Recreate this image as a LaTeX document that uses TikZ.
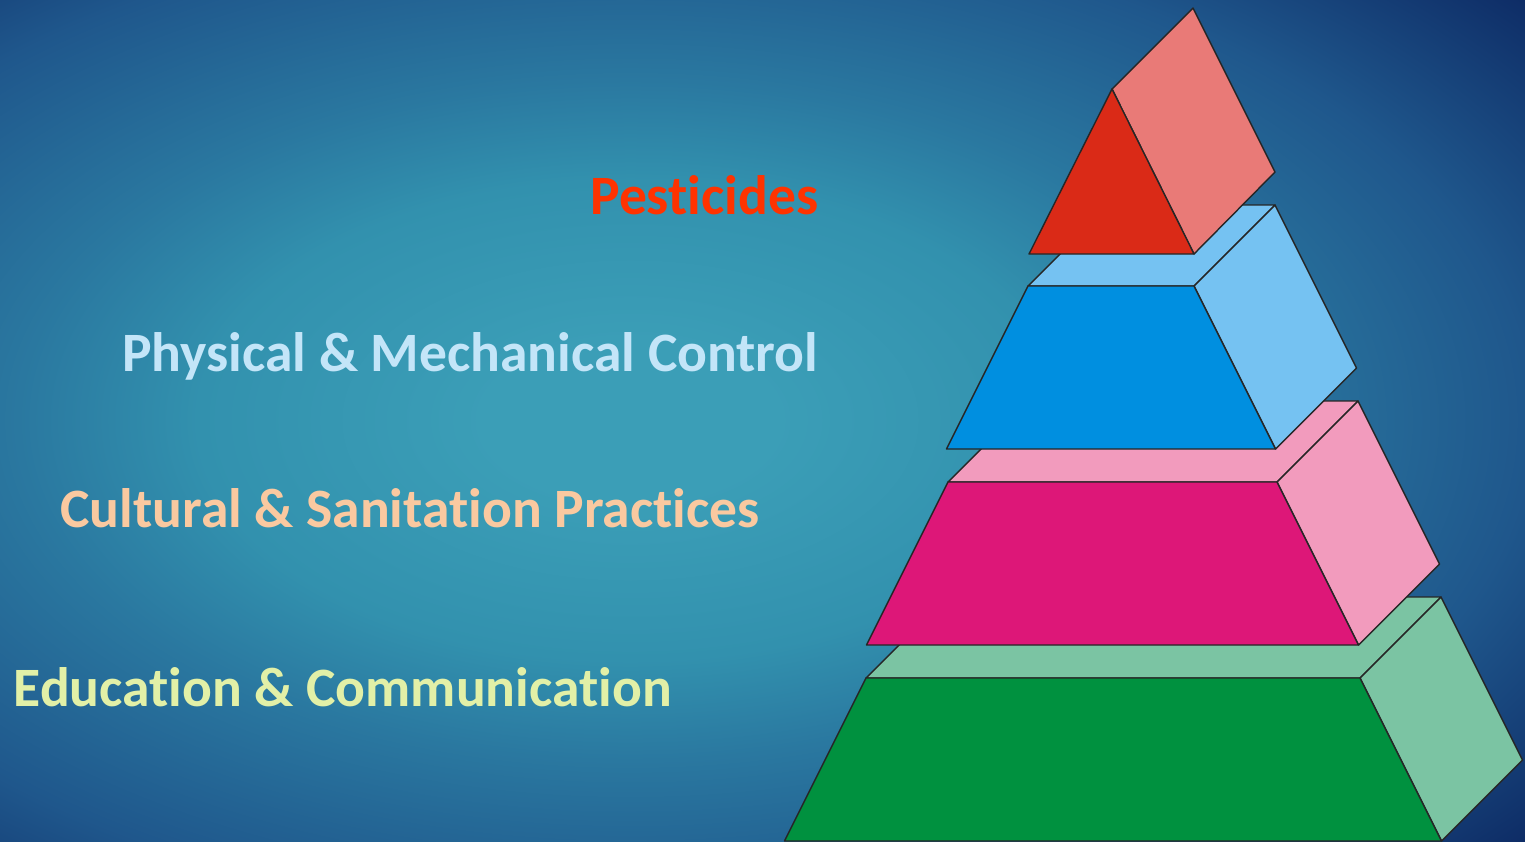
\documentclass[tikz,border=0pt]{standalone}
\usepackage{fontspec}
\setmainfont{Carlito}[Ligatures=NoCommon]
\usepackage{tikz}

\definecolor{bgcore}{HTML}{3B9EB7}
\definecolor{bginner}{HTML}{3291AE}
\definecolor{bgmid}{HTML}{2A78A0}
\definecolor{bgouter}{HTML}{1F578C}
\definecolor{bgcorner}{HTML}{0D2A64}
\definecolor{edgegray}{HTML}{262626}
\definecolor{tierred}{HTML}{DA2A17}
\definecolor{palered}{HTML}{E97A77}
\definecolor{tierblue}{HTML}{008FE0}
\definecolor{paleblue}{HTML}{75C2F2}
\definecolor{tierpink}{HTML}{DD1778}
\definecolor{palepink}{HTML}{F29BBD}
\definecolor{tiergreen}{HTML}{00913F}
\definecolor{palegreen}{HTML}{7BC4A3}
\definecolor{txtred}{HTML}{FF3300}
\definecolor{txtblue}{HTML}{C3E5F8}
\definecolor{txtpeach}{HTML}{FAC9A0}
\definecolor{txtlime}{HTML}{E2F0A7}

\pgfdeclareradialshading{bgglow}{\pgfpointorigin}{color(0bp)=(bgcore); color(4bp)=(bgcore); color(12bp)=(bginner); color(17bp)=(bgmid); color(25bp)=(bgouter); color(33bp)=(bgcorner); color(40bp)=(bgcorner)}

\begin{document}
\begin{tikzpicture}[x=0.01cm,y=-0.01cm,
    face/.style={draw=edgegray,line width=0.4pt,line join=round},
    tiertext/.style={font=\fontsize{15.8}{19}\selectfont\bfseries,inner sep=0pt}]
    \useasboundingbox (0,0) rectangle (1525,841);

    \begin{scope}
    \clip (0,0) rectangle (1525,841);
    \shade[shading=bgglow] (-270,-80) rectangle (1530,920);

    \foreach \yt/\xl/\xr/\main/\pale in {678/866/1360/tiergreen/palegreen,
        482/948/1277/tierpink/palepink, 286/1028/1194/tierblue/paleblue}{
      \draw[face,fill=\pale] (\xl,\yt) -- ++(81,-81) -- ({\xr+81},{\yt-81}) -- (\xr,\yt) -- cycle;
      \draw[face,fill=\pale] (\xr,\yt) -- ++(81,-81) -- ++(81.5,163) -- ++(-81,81) -- cycle;
      \draw[face,fill=\main] (\xl,\yt) -- (\xr,\yt) -- ({\xr+81.5},{\yt+163}) -- ({\xl-81.5},{\yt+163}) -- cycle;
    }
    \draw[face,fill=palered] (1112,89) -- ++(81,-81) -- (1275,172) -- (1194,254) -- cycle;
    \draw[face,fill=tierred] (1112,89) -- (1194,254) -- (1029,254) -- cycle;
    \end{scope}

    \node[tiertext,text=txtred,anchor=base east] (pesticides) at (819,214) {Pesticides};
    \node[tiertext,text=txtblue,anchor=base east] (physical) at (819,371) {Physical \& Mechanical Control};
    \node[tiertext,text=txtpeach,anchor=base east] (cultural) at (760,527) {Cultural \& Sanitation Practices};
    \node[tiertext,text=txtlime,anchor=base west] (education) at (13,706) {Education \& Communication};

  \end{tikzpicture}
\end{document}
